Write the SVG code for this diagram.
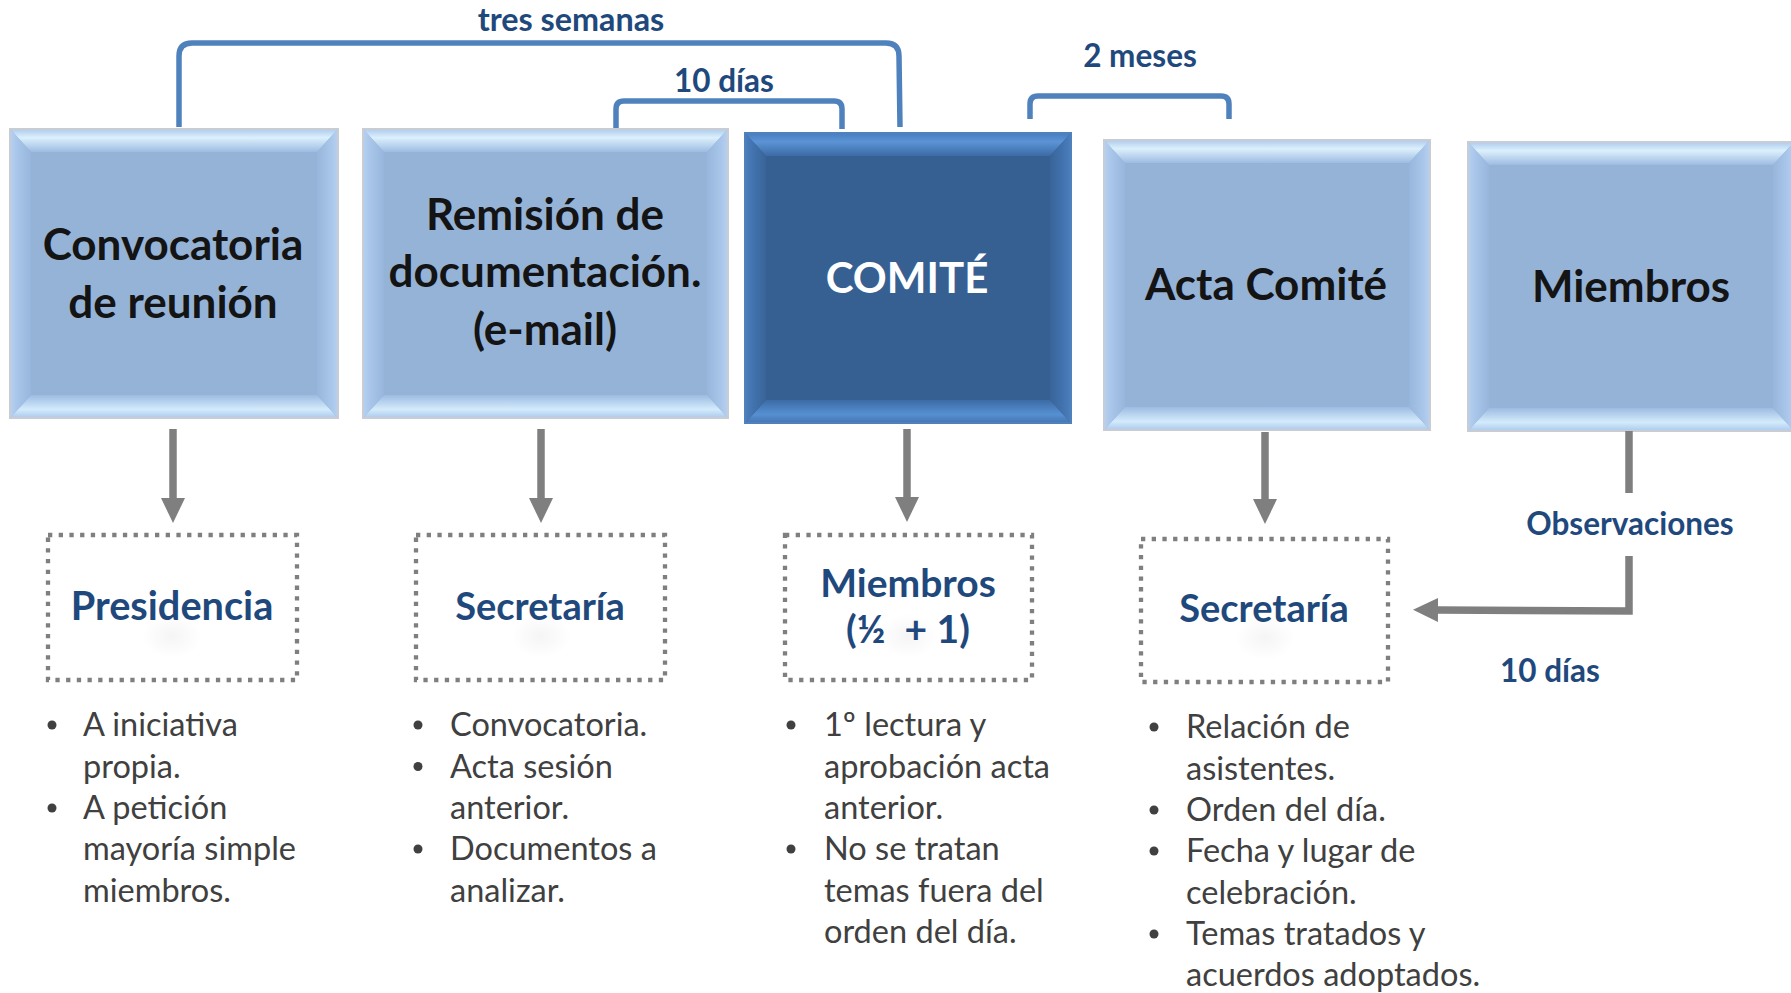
<svg xmlns="http://www.w3.org/2000/svg" width="1791" height="993" viewBox="0 0 1791 993">
<defs>
<linearGradient id="lt" x1="0" y1="0" x2="0" y2="1"><stop offset="0" stop-color="#b2cff0"/><stop offset="0.35" stop-color="#dcf0fc"/><stop offset="1" stop-color="#9dbbe2"/></linearGradient>
<linearGradient id="lb" x1="0" y1="0" x2="0" y2="1"><stop offset="0" stop-color="#9dbbe2"/><stop offset="0.65" stop-color="#d3ebfb"/><stop offset="1" stop-color="#b0cdef"/></linearGradient>
<linearGradient id="ll" x1="0" y1="0" x2="1" y2="0"><stop offset="0" stop-color="#b3d0f1"/><stop offset="0.4" stop-color="#a6c3e8"/><stop offset="1" stop-color="#98b6db"/></linearGradient>
<linearGradient id="lr" x1="1" y1="0" x2="0" y2="0"><stop offset="0" stop-color="#b3d0f1"/><stop offset="0.4" stop-color="#a6c3e8"/><stop offset="1" stop-color="#98b6db"/></linearGradient>
<linearGradient id="dt" x1="0" y1="0" x2="0" y2="1"><stop offset="0" stop-color="#4a80c2"/><stop offset="0.35" stop-color="#5b94d6"/><stop offset="1" stop-color="#3c6ba5"/></linearGradient>
<linearGradient id="db" x1="0" y1="0" x2="0" y2="1"><stop offset="0" stop-color="#3c6ba5"/><stop offset="0.65" stop-color="#5690d2"/><stop offset="1" stop-color="#4778b6"/></linearGradient>
<linearGradient id="dl" x1="0" y1="0" x2="1" y2="0"><stop offset="0" stop-color="#4a7dbd"/><stop offset="0.4" stop-color="#4172ad"/><stop offset="1" stop-color="#3a6498"/></linearGradient>
<linearGradient id="dr" x1="1" y1="0" x2="0" y2="0"><stop offset="0" stop-color="#4a7dbd"/><stop offset="0.4" stop-color="#4172ad"/><stop offset="1" stop-color="#3a6498"/></linearGradient>
<radialGradient id="glow"><stop offset="0" stop-color="#000" stop-opacity="0.04"/><stop offset="1" stop-color="#000" stop-opacity="0"/></radialGradient>
<marker id="ah" markerUnits="userSpaceOnUse" markerWidth="25" markerHeight="24" viewBox="0 0 25 24" refX="0" refY="12" orient="auto"><path d="M0,0 L25,12 L0,24 Z" fill="#7f7f7f"/></marker>
</defs>
<style>
.lbox{fill:#95b3d7;stroke:#c9cdd3;stroke-width:2}
.dbox{fill:#376092;stroke:#4f81bd;stroke-width:2}
.lt{fill:url(#lt)}.lb{fill:url(#lb)}.ll{fill:url(#ll)}.lr{fill:url(#lr)}
.dt{fill:url(#dt)}.db{fill:url(#db)}.dl{fill:url(#dl)}.dr{fill:url(#dr)}
.title{font-family:Lato,"Liberation Sans",sans-serif;font-weight:700;font-size:44px;fill:#141414;text-anchor:middle}
.wt{fill:#ffffff;font-size:42px}
.lab{font-family:Lato,"Liberation Sans",sans-serif;font-weight:700;font-size:39px;fill:#1f497d;text-anchor:middle}
.small{font-family:Lato,"Liberation Sans",sans-serif;font-weight:700;font-size:31.5px;fill:#1f497d;text-anchor:middle}
.body{font-family:Lato,"Liberation Sans",sans-serif;font-size:32.5px;fill:#404040}
.dot{fill:#404040}
.dash{fill:none;stroke:#7f7f7f;stroke-width:4.3;stroke-dasharray:4.3 6.4}
.br{fill:none;stroke:#4f81bd;stroke-width:5.5;stroke-linejoin:round}
.ar{fill:none;stroke:#7f7f7f;stroke-width:7.5}
</style>

<g id="brackets">
<path class="br" d="M179,127 L179,56 Q179,43 192,43 L886,43 Q899,43 899,56 L900,127"/>
<path class="br" d="M616,129 L616,109 Q616,101 624,101 L834,101 Q842,101 842,109 L842,129"/>
<path class="br" d="M1030,119 L1030,104 Q1030,96 1038,96 L1221,96 Q1229,96 1229,104 L1229,119"/>
<text class="small" x="571" y="31" style="font-size:32.3px">tres semanas</text>
<text class="small" x="724" y="92">10 días</text>
<text class="small" x="1140" y="67">2 meses</text>
</g>

<g id="n-convocatoria">
<rect class="lbox" x="10" y="129" width="328" height="289"/>
<polygon class="lt" points="11,130 337,130 317,152 31,152"/>
<polygon class="lb" points="11,417 337,417 317,395 31,395"/>
<polygon class="ll" points="11,130 31,152 31,395 11,417"/>
<polygon class="lr" points="337,130 317,152 317,395 337,417"/>
<text class="title" x="173" y="260">Convocatoria</text>
<text class="title" x="173" y="318">de reunión</text>
</g>

<g id="n-remision">
<rect class="lbox" x="363" y="129" width="365" height="289"/>
<polygon class="lt" points="364,130 727,130 707,152 384,152"/>
<polygon class="lb" points="364,417 727,417 707,395 384,395"/>
<polygon class="ll" points="364,130 384,152 384,395 364,417"/>
<polygon class="lr" points="727,130 707,152 707,395 727,417"/>
<text class="title" x="545" y="230">Remisión de</text>
<text class="title" x="545" y="287">documentación.</text>
<text class="title" x="545" y="345">(e-mail)</text>
</g>

<g id="n-comite">
<rect class="dbox" x="745" y="133" width="326" height="290"/>
<polygon class="dt" points="746,134 1070,134 1050,156 766,156"/>
<polygon class="db" points="746,422 1070,422 1050,400 766,400"/>
<polygon class="dl" points="746,134 766,156 766,400 746,422"/>
<polygon class="dr" points="1070,134 1050,156 1050,400 1070,422"/>
<text class="title wt" x="907" y="293">COMITÉ</text>
</g>

<g id="n-acta">
<rect class="lbox" x="1104" y="140" width="326" height="290"/>
<polygon class="lt" points="1105,141 1429,141 1409,163 1125,163"/>
<polygon class="lb" points="1105,429 1429,429 1409,407 1125,407"/>
<polygon class="ll" points="1105,141 1125,163 1125,407 1105,429"/>
<polygon class="lr" points="1429,141 1409,163 1409,407 1429,429"/>
<text class="title" x="1266" y="300">Acta Comité</text>
</g>

<g id="n-miembros">
<rect class="lbox" x="1468" y="142" width="326" height="289"/>
<polygon class="lt" points="1469,143 1793,143 1773,165 1489,165"/>
<polygon class="lb" points="1469,430 1793,430 1773,408 1489,408"/>
<polygon class="ll" points="1469,143 1489,165 1489,408 1469,430"/>
<polygon class="lr" points="1793,143 1773,165 1773,408 1793,430"/>
<text class="title" x="1631" y="302">Miembros</text>
</g>

<g id="connectors">
<line class="ar" x1="173" y1="429" x2="173" y2="498" marker-end="url(#ah)"/>
<line class="ar" x1="541" y1="429" x2="541" y2="498" marker-end="url(#ah)"/>
<line class="ar" x1="907" y1="429" x2="907" y2="497" marker-end="url(#ah)"/>
<line class="ar" x1="1265" y1="432" x2="1265" y2="499" marker-end="url(#ah)"/>
<line class="ar" x1="1629" y1="431" x2="1629" y2="493"/>
<path class="ar" d="M1629,556 L1629,611 L1438,610" marker-end="url(#ah)"/>
<text class="small" x="1630" y="535">Observaciones</text>
<text class="small" x="1550" y="682">10 días</text>
</g>

<g id="n-presidencia">
<ellipse cx="172" cy="636" rx="30" ry="22" fill="url(#glow)"/>
<rect class="dash" x="48" y="535" width="249" height="145"/>
<text class="lab" x="172" y="620" style="font-size:39.7px">Presidencia</text>
<g class="body">
<circle class="dot" cx="52" cy="725" r="4.5"/>
<circle class="dot" cx="52" cy="808" r="4.5"/>
<text x="83" y="736">A iniciativa</text>
<text x="83" y="777.5">propia.</text>
<text x="83" y="819">A petición</text>
<text x="83" y="860">mayoría simple</text>
<text x="83" y="902">miembros.</text>
</g>
</g>

<g id="n-secretaria1">
<ellipse cx="541" cy="636" rx="30" ry="22" fill="url(#glow)"/>
<rect class="dash" x="416" y="535" width="249" height="145"/>
<text class="lab" x="540" y="620" style="font-size:38px">Secretaría</text>
<g class="body">
<circle class="dot" cx="418" cy="725" r="4.5"/>
<circle class="dot" cx="418" cy="766.5" r="4.5"/>
<circle class="dot" cx="418" cy="849" r="4.5"/>
<text x="450" y="736">Convocatoria.</text>
<text x="450" y="777.5">Acta sesión</text>
<text x="450" y="819">anterior.</text>
<text x="450" y="860">Documentos a</text>
<text x="450" y="902">analizar.</text>
</g>
</g>

<g id="n-miembros2">
<ellipse cx="908" cy="636" rx="30" ry="22" fill="url(#glow)"/>
<rect class="dash" x="785" y="535" width="247" height="145"/>
<text class="lab" x="908" y="597">Miembros</text>
<text class="lab" x="908" y="643" xml:space="preserve">(½  + 1)</text>
<g class="body">
<circle class="dot" cx="791" cy="725" r="4.5"/>
<circle class="dot" cx="791" cy="849" r="4.5"/>
<text x="824" y="736">1º lectura y</text>
<text x="824" y="777.5">aprobación acta</text>
<text x="824" y="819">anterior.</text>
<text x="824" y="860">No se tratan</text>
<text x="824" y="902">temas fuera del</text>
<text x="824" y="943">orden del día.</text>
</g>
</g>

<g id="n-secretaria2">
<ellipse cx="1265" cy="638" rx="30" ry="22" fill="url(#glow)"/>
<rect class="dash" x="1141" y="539" width="247" height="143"/>
<text class="lab" x="1264" y="622" style="font-size:38px">Secretaría</text>
<g class="body">
<circle class="dot" cx="1154" cy="727" r="4.5"/>
<circle class="dot" cx="1154" cy="810" r="4.5"/>
<circle class="dot" cx="1154" cy="851" r="4.5"/>
<circle class="dot" cx="1154" cy="934" r="4.5"/>
<text x="1186" y="738">Relación de</text>
<text x="1186" y="779.5">asistentes.</text>
<text x="1186" y="821">Orden del día.</text>
<text x="1186" y="862">Fecha y lugar de</text>
<text x="1186" y="903.5">celebración.</text>
<text x="1186" y="945">Temas tratados y</text>
<text x="1186" y="986">acuerdos adoptados.</text>
</g>
</g>
</svg>
